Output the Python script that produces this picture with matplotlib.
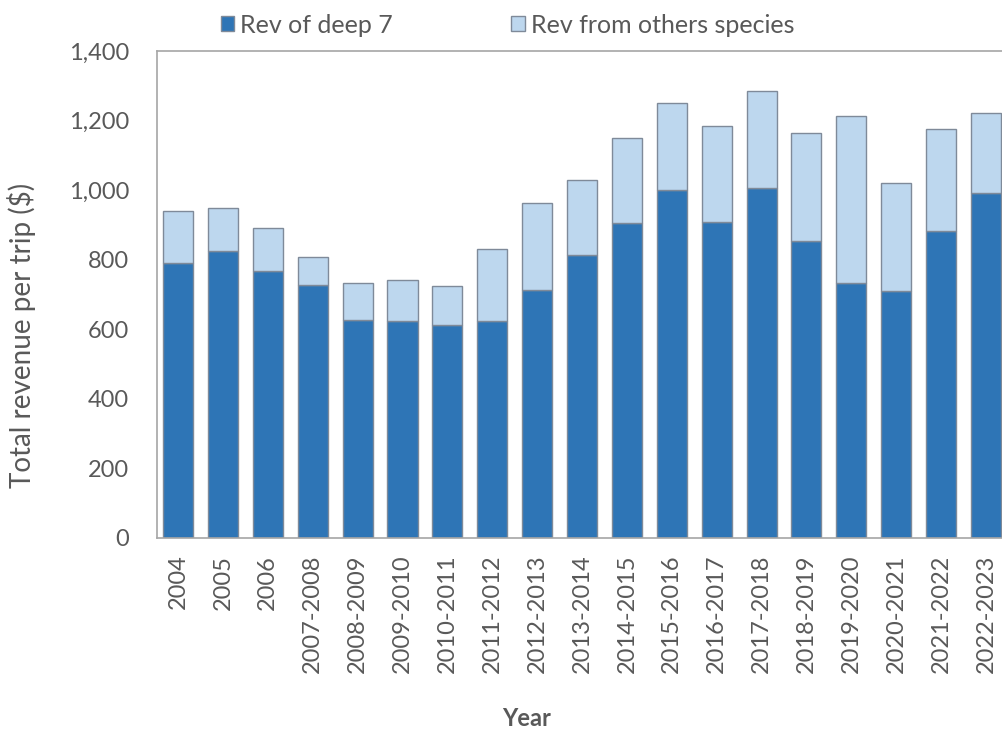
import numpy as np
import matplotlib.pyplot as plt

# === DATA ===
years = ["2004", "2005", "2006", "2007-2008", "2008-2009", "2009-2010", "2010-2011",
         "2011-2012", "2012-2013", "2013-2014", "2014-2015", "2015-2016", "2016-2017",
         "2017-2018", "2018-2019", "2019-2020", "2020-2021", "2021-2022", "2022-2023"]
rev_deep7 = [790, 825, 768, 727, 627, 624, 612, 624, 713, 814, 906, 1000, 909,
             1006, 854, 733, 710, 883, 992]
rev_total = [940, 949, 891, 808, 733, 742, 725, 831, 963, 1029, 1150, 1251, 1185,
             1285, 1164, 1213, 1021, 1176, 1222]
rev_others = [t - d for t, d in zip(rev_total, rev_deep7)]

# === STYLE ===
plt.rcParams['font.family'] = ['Lato', 'DejaVu Sans']
dark = "#2E75B6"
light = "#BDD7EE"
edge = "#7F8A99"
grey_text = "#595959"

fig = plt.figure(figsize=(10.03, 7.32), dpi=100)
ax = fig.add_axes([157 / 1003, 1 - 538 / 732, 846 / 1003, 487 / 732])

x = np.arange(len(years))
ax.bar(x, rev_deep7, width=0.67, color=dark, edgecolor=edge, linewidth=1.0,
       label="Rev of deep 7", zorder=2)
ax.bar(x, rev_others, width=0.67, bottom=rev_deep7, color=light, edgecolor=edge,
       linewidth=1.0, label="Rev from others species", zorder=2)

ax.set_xlim(-0.47, 18.38)
ax.set_ylim(0, 1400)
ax.set_yticks(np.arange(0, 1401, 200))
ax.set_yticklabels([f"{v:,}" for v in range(0, 1401, 200)])
ax.set_xticks(x)
ax.set_xticklabels(years, rotation=90)
ax.tick_params(axis='both', labelsize=17, colors=grey_text, length=0)
ax.tick_params(axis='x', pad=12)
ax.tick_params(axis='y', pad=20)

for side in ["left", "top", "bottom"]:
    ax.spines[side].set_color("#A6A6A6")
    ax.spines[side].set_linewidth(1.2)
ax.spines["right"].set_visible(False)

# axis titles placed like the original (not centred on the plot area)
fig.text(22 / 1003, 1 - 335 / 732, "Total revenue per trip ($)", rotation=90,
         fontsize=20, color=grey_text, ha="center", va="center")
fig.text(527 / 1003, 1 - 718 / 732, "Year", fontsize=17, color=grey_text,
         fontweight="bold", ha="center", va="center")

fig.legend(loc="upper left", bbox_to_anchor=(198 / 1003, 1.012), ncol=2, frameon=False,
           fontsize=18, handlelength=0.55, handleheight=0.55, handletextpad=0.25,
           columnspacing=4.7, labelcolor=grey_text)

fig.savefig("out.png", dpi=100)
